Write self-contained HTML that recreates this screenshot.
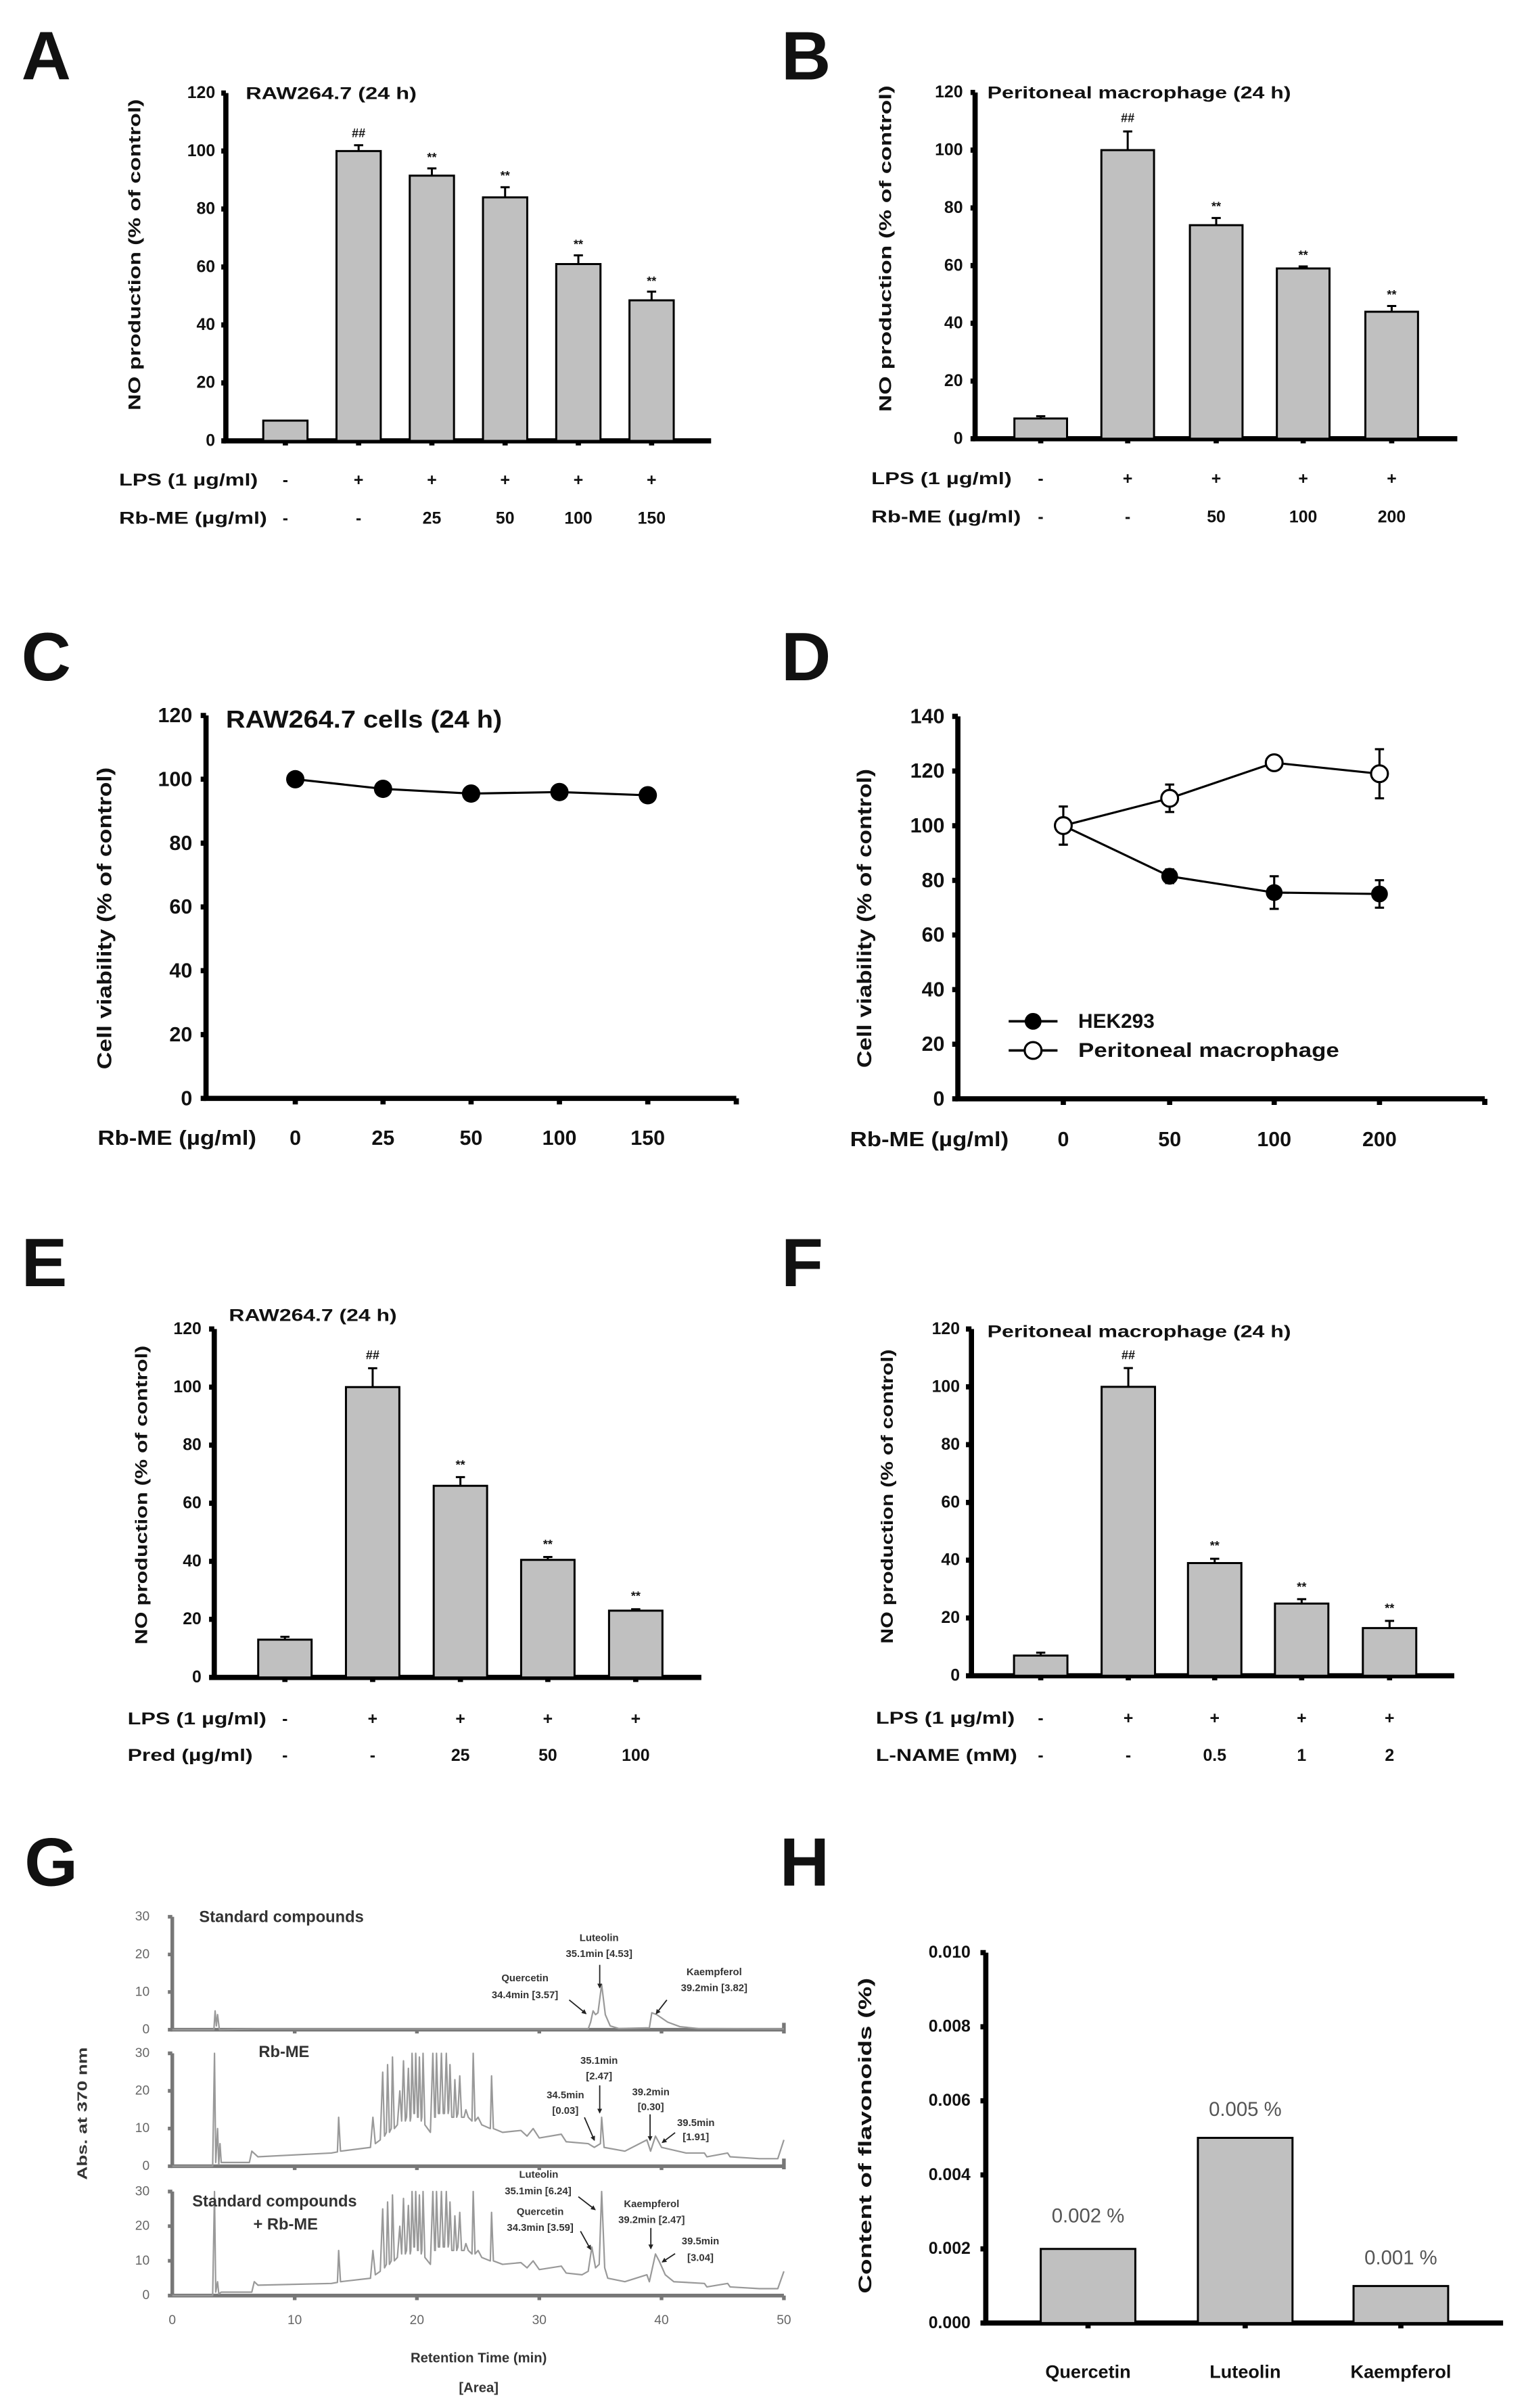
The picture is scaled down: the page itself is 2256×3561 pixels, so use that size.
<!DOCTYPE html>
<html><head><meta charset="utf-8"><style>
html,body{margin:0;padding:0;background:#fff;}
svg{display:block;}
text{font-family:"Liberation Sans",Arial,sans-serif;fill:#111;}
.b{font-weight:bold;}
.ax{stroke:#000;stroke-width:3.4;fill:none;}
.bar{fill:#c0c0c0;stroke:#000;stroke-width:3;vector-effect:non-scaling-stroke;}
.eb{stroke:#000;stroke-width:3;fill:none;vector-effect:non-scaling-stroke;}
.tr{fill:none;stroke:#999;stroke-width:2.2;vector-effect:non-scaling-stroke;stroke-linejoin:round;}
.gax{stroke:#777;stroke-width:2.4;fill:none;}
.gt{fill:#666;font-size:8.5px;}
.gl{fill:#333;font-size:6.6px;font-weight:bold;}
.arr{stroke:#222;stroke-width:0.8;fill:none;}
</style></head><body>
<svg width="2256" height="3561" viewBox="0 0 1000 1578.5" xmlns="http://www.w3.org/2000/svg">
<defs><marker id="ah" viewBox="0 0 6 6" refX="5" refY="3" markerWidth="4" markerHeight="4" orient="auto"><path d="M0,0 L6,3 L0,6 z" fill="#222"/></marker></defs>

<!-- Panel letters -->
<g class="b" font-size="45">
<text x="14" y="52" class="b">A</text>
<text x="512" y="52" class="b">B</text>
<text x="14" y="446" class="b">C</text>
<text x="512" y="446" class="b">D</text>
<text x="14" y="843" class="b">E</text>
<text x="512" y="843" class="b">F</text>
<text x="16" y="1236" class="b">G</text>
<text x="511" y="1236" class="b">H</text>
</g>

<!-- ===== Panel A ===== -->
<g>
<path class="ax" d="M148 61 V289 H466"/>
<path class="ax" d="M145 289H148M145 251H148M145 213H148M145 175H148M145 137H148M145 99H148M145 61H148" />
<path class="ax" stroke-width="2" d="M187 289v3M235 289v3M283 289v3M331 289v3M379 289v3M427 289v3"/>
<g font-size="11" class="b" text-anchor="end" dominant-baseline="central">
<text x="141" y="289" class="b">0</text><text x="141" y="251" class="b">20</text><text x="141" y="213" class="b">40</text><text x="141" y="175" class="b">60</text><text x="141" y="137" class="b">80</text><text x="141" y="99" class="b">100</text><text x="141" y="61" class="b">120</text>
</g>
<text class="b" font-size="11" x="161" y="65" textLength="112" lengthAdjust="spacingAndGlyphs">RAW264.7 (24 h)</text>
<text class="b" font-size="11" transform="translate(92,167) rotate(-90)" text-anchor="middle" textLength="204" lengthAdjust="spacingAndGlyphs">NO production  (% of control)</text>
<g transform="translate(0,289) scale(1,-1.9)">
<rect class="bar" x="172.5" y="0" width="29" height="7"/>
<rect class="bar" x="220.5" y="0" width="29" height="100"/>
<rect class="bar" x="268.5" y="0" width="29" height="91.5"/>
<rect class="bar" x="316.5" y="0" width="29" height="84"/>
<rect class="bar" x="364.5" y="0" width="29" height="61"/>
<rect class="bar" x="412.5" y="0" width="29" height="48.5"/>
<path class="eb" d="M235 100V102M232 102H238 M283 91.5V94M280 94H286 M331 84V87.5M328 87.5H334 M379 61V64M376 64H382 M427 48.5V51.5M424 51.5H430"/>
</g>
<g font-size="8" class="b" text-anchor="middle">
<text x="235" y="90" class="b">##</text><text x="283" y="106" class="b">**</text><text x="331" y="118" class="b">**</text><text x="379" y="163" class="b">**</text><text x="427" y="187" class="b">**</text>
</g>
<g font-size="11" text-anchor="middle" dominant-baseline="central" class="b">
<text x="78" y="315" text-anchor="start" textLength="91" lengthAdjust="spacingAndGlyphs" class="b">LPS (1 µg/ml)</text>
<text x="187" y="315" class="b">-</text><text x="235" y="315" class="b">+</text><text x="283" y="315" class="b">+</text><text x="331" y="315" class="b">+</text><text x="379" y="315" class="b">+</text><text x="427" y="315" class="b">+</text>
<text x="78" y="340" text-anchor="start" textLength="97" lengthAdjust="spacingAndGlyphs" class="b">Rb-ME (µg/ml)</text>
<text x="187" y="340" class="b">-</text><text x="235" y="340" class="b">-</text><text x="283" y="340" class="b">25</text><text x="331" y="340" class="b">50</text><text x="379" y="340" class="b">100</text><text x="427" y="340" class="b">150</text>
</g>
</g>

<!-- ===== Panel B ===== -->
<g>
<path class="ax" d="M639 60.6 V287.6 H955"/>
<path class="ax" d="M636 287.6H639M636 249.8H639M636 211.9H639M636 174.1H639M636 136.3H639M636 98.4H639M636 60.6H639"/>
<path class="ax" stroke-width="2" d="M682 287.6v3M739 287.6v3M797 287.6v3M854 287.6v3M912 287.6v3"/>
<g font-size="11" class="b" text-anchor="end" dominant-baseline="central">
<text x="631" y="287.6" class="b">0</text><text x="631" y="249.8" class="b">20</text><text x="631" y="211.9" class="b">40</text><text x="631" y="174.1" class="b">60</text><text x="631" y="136.3" class="b">80</text><text x="631" y="98.4" class="b">100</text><text x="631" y="60.6" class="b">120</text>
</g>
<text class="b" font-size="11" x="647" y="64.5" textLength="199" lengthAdjust="spacingAndGlyphs">Peritoneal  macrophage (24 h)</text>
<text class="b" font-size="11" transform="translate(584,163) rotate(-90)" text-anchor="middle" textLength="214" lengthAdjust="spacingAndGlyphs">NO production  (% of control)</text>
<g transform="translate(0,287.6) scale(1,-1.8917)">
<rect class="bar" x="664.75" y="0" width="34.5" height="7"/>
<rect class="bar" x="721.75" y="0" width="34.5" height="100"/>
<rect class="bar" x="779.75" y="0" width="34.5" height="74"/>
<rect class="bar" x="836.75" y="0" width="34.5" height="59"/>
<rect class="bar" x="894.75" y="0" width="34.5" height="44"/>
<path class="eb" d="M682 7V7.8M679 7.8H685 M739 100V106.5M736 106.5H742 M797 74V76.5M794 76.5H800 M854 59V59.7M851 59.7H857 M912 44V46M909 46H915"/>
</g>
<g font-size="8" class="b" text-anchor="middle">
<text x="739" y="80" class="b">##</text><text x="797" y="138" class="b">**</text><text x="854" y="170" class="b">**</text><text x="912" y="196" class="b">**</text>
</g>
<g font-size="11" text-anchor="middle" dominant-baseline="central" class="b">
<text x="571" y="314" text-anchor="start" textLength="92" lengthAdjust="spacingAndGlyphs" class="b">LPS (1 µg/ml)</text>
<text x="682" y="314" class="b">-</text><text x="739" y="314" class="b">+</text><text x="797" y="314" class="b">+</text><text x="854" y="314" class="b">+</text><text x="912" y="314" class="b">+</text>
<text x="571" y="339" text-anchor="start" textLength="98" lengthAdjust="spacingAndGlyphs" class="b">Rb-ME (µg/ml)</text>
<text x="682" y="339" class="b">-</text><text x="739" y="339" class="b">-</text><text x="797" y="339" class="b">50</text><text x="854" y="339" class="b">100</text><text x="912" y="339" class="b">200</text>
</g>
</g>

<!-- ===== Panel C ===== -->
<g>
<path class="ax" d="M135 469 V720 H482.5"/>
<path class="ax" d="M131.5 720H135M131.5 678.2H135M131.5 636.3H135M131.5 594.5H135M131.5 552.7H135M131.5 510.8H135M131.5 469H135"/>
<path class="ax" stroke-width="2.5" d="M193.5 720v4M251 720v4M308.7 720v4M366.6 720v4M424.5 720v4M482.5 720v4"/>
<g font-size="13.5" class="b" text-anchor="end" dominant-baseline="central">
<text x="126" y="720" class="b">0</text><text x="126" y="678.2" class="b">20</text><text x="126" y="636.3" class="b">40</text><text x="126" y="594.5" class="b">60</text><text x="126" y="552.7" class="b">80</text><text x="126" y="510.8" class="b">100</text><text x="126" y="469" class="b">120</text>
</g>
<text class="b" font-size="16" x="148" y="477" textLength="181" lengthAdjust="spacingAndGlyphs">RAW264.7 cells (24 h)</text>
<text class="b" font-size="13" transform="translate(73,602) rotate(-90)" text-anchor="middle" textLength="198" lengthAdjust="spacingAndGlyphs">Cell viability (% of control)</text>
<polyline fill="none" stroke="#000" stroke-width="1.4" points="193.5,510.8 251,517.1 308.7,520.2 366.6,519.2 424.5,521.3"/>
<g fill="#000"><circle cx="193.5" cy="510.8" r="6"/><circle cx="251" cy="517.1" r="6"/><circle cx="308.7" cy="520.2" r="6"/><circle cx="366.6" cy="519.2" r="6"/><circle cx="424.5" cy="521.3" r="6"/></g>
<g font-size="13.5" text-anchor="middle" dominant-baseline="central" class="b">
<text x="64" y="746" text-anchor="start" textLength="104" lengthAdjust="spacingAndGlyphs" class="b">Rb-ME (µg/ml)</text>
<text x="193.5" y="746" class="b">0</text><text x="251" y="746" class="b">25</text><text x="308.7" y="746" class="b">50</text><text x="366.6" y="746" class="b">100</text><text x="424.5" y="746" class="b">150</text>
</g>
</g>

<!-- ===== Panel D ===== -->
<g>
<path class="ax" d="M627.7 469.6 V720.3 H973"/>
<path class="ax" d="M624 720.3H627.7M624 684.5H627.7M624 648.7H627.7M624 612.9H627.7M624 577.1H627.7M624 541.3H627.7M624 505.4H627.7M624 469.6H627.7"/>
<path class="ax" stroke-width="2.5" d="M696.8 720.3v4M766.5 720.3v4M835 720.3v4M904 720.3v4M973 720.3v4"/>
<g font-size="13.5" class="b" text-anchor="end" dominant-baseline="central">
<text x="619" y="720.3" class="b">0</text><text x="619" y="684.5" class="b">20</text><text x="619" y="648.7" class="b">40</text><text x="619" y="612.9" class="b">60</text><text x="619" y="577.1" class="b">80</text><text x="619" y="541.3" class="b">100</text><text x="619" y="505.4" class="b">120</text><text x="619" y="469.6" class="b">140</text>
</g>
<text class="b" font-size="13" transform="translate(571,602) rotate(-90)" text-anchor="middle" textLength="196" lengthAdjust="spacingAndGlyphs">Cell viability (% of control)</text>
<g stroke="#000" stroke-width="1.4" fill="none">
<polyline points="696.8,541.2 766.5,574.4 835,585.1 904,586"/>
<polyline points="696.8,541.2 766.5,523.3 835,500 904,507.2"/>
<path d="M766.5 569.9V578.9M763.5 569.9H769.5M763.5 578.9H769.5 M835 574.4V595.8M832 574.4H838M832 595.8H838 M904 577V595M901 577H907M901 595H907"/>
<path d="M696.8 528.7V553.7M693.8 528.7H699.8M693.8 553.7H699.8 M766.5 514.3V532.3M763.5 514.3H769.5M763.5 532.3H769.5 M835 498.2V501.8M832 498.2H838 M904 491.1V523.3M901 491.1H907M901 523.3H907"/>
</g>
<g fill="#000"><circle cx="766.5" cy="574.4" r="5.5"/><circle cx="835" cy="585.1" r="5.5"/><circle cx="904" cy="586" r="5.5"/></g>
<g fill="#fff" stroke="#000" stroke-width="1.4"><circle cx="696.8" cy="541.2" r="5.5"/><circle cx="766.5" cy="523.3" r="5.5"/><circle cx="835" cy="500" r="5.5"/><circle cx="904" cy="507.2" r="5.5"/></g>
<path d="M661 669.5H693M661 688.6H693" stroke="#000" stroke-width="1.6"/>
<circle cx="677" cy="669.5" r="5.5" fill="#000"/>
<circle cx="677" cy="688.6" r="5.5" fill="#fff" stroke="#000" stroke-width="1.4"/>
<g font-size="13" class="b" dominant-baseline="central">
<text x="706.6" y="669.5" textLength="50" lengthAdjust="spacingAndGlyphs" class="b">HEK293</text>
<text x="706.6" y="688.6" textLength="171" lengthAdjust="spacingAndGlyphs" class="b">Peritoneal macrophage</text>
</g>
<g font-size="13.5" text-anchor="middle" dominant-baseline="central" class="b">
<text x="557" y="747" text-anchor="start" textLength="104" lengthAdjust="spacingAndGlyphs" class="b">Rb-ME (µg/ml)</text>
<text x="696.8" y="747" class="b">0</text><text x="766.5" y="747" class="b">50</text><text x="835" y="747" class="b">100</text><text x="904" y="747" class="b">200</text>
</g>
</g>

<!-- ===== Panel E ===== -->
<g>
<path class="ax" d="M140.4 871.2 V1099.6 H459.6"/>
<path class="ax" d="M137 1099.6H140.4M137 1061.5H140.4M137 1023.5H140.4M137 985.4H140.4M137 947.3H140.4M137 909.3H140.4M137 871.2H140.4"/>
<path class="ax" stroke-width="2" d="M186.7 1099.6v3M244.2 1099.6v3M301.7 1099.6v3M359 1099.6v3M416.6 1099.6v3"/>
<g font-size="11" class="b" text-anchor="end" dominant-baseline="central">
<text x="132" y="1099.6" class="b">0</text><text x="132" y="1061.5" class="b">20</text><text x="132" y="1023.5" class="b">40</text><text x="132" y="985.4" class="b">60</text><text x="132" y="947.3" class="b">80</text><text x="132" y="909.3" class="b">100</text><text x="132" y="871.2" class="b">120</text>
</g>
<text class="b" font-size="11" x="150" y="866" textLength="110" lengthAdjust="spacingAndGlyphs">RAW264.7 (24 h)</text>
<text class="b" font-size="11" transform="translate(96.5,980) rotate(-90)" text-anchor="middle" textLength="196" lengthAdjust="spacingAndGlyphs">NO production  (% of control)</text>
<g transform="translate(0,1099.6) scale(1,-1.9033)">
<rect class="bar" x="169.2" y="0" width="35" height="13"/>
<rect class="bar" x="226.7" y="0" width="35" height="100"/>
<rect class="bar" x="284.2" y="0" width="35" height="66"/>
<rect class="bar" x="341.5" y="0" width="35" height="40.5"/>
<rect class="bar" x="399.1" y="0" width="35" height="23"/>
<path class="eb" d="M186.7 13V14M183.7 14H189.7 M244.2 100V106.5M241.2 106.5H247.2 M301.7 66V69M298.7 69H304.7 M359 40.5V41.5M356 41.5H362 M416.6 23V23.5M413.6 23.5H419.6"/>
</g>
<g font-size="8" class="b" text-anchor="middle">
<text x="244.2" y="891" class="b">##</text><text x="301.7" y="963" class="b">**</text><text x="359" y="1015" class="b">**</text><text x="416.6" y="1049" class="b">**</text>
</g>
<g font-size="11" text-anchor="middle" dominant-baseline="central" class="b">
<text x="83.6" y="1127" text-anchor="start" textLength="91" lengthAdjust="spacingAndGlyphs" class="b">LPS (1 µg/ml)</text>
<text x="186.7" y="1127" class="b">-</text><text x="244.2" y="1127" class="b">+</text><text x="301.7" y="1127" class="b">+</text><text x="359" y="1127" class="b">+</text><text x="416.6" y="1127" class="b">+</text>
<text x="83.6" y="1151" text-anchor="start" textLength="82" lengthAdjust="spacingAndGlyphs" class="b">Pred (µg/ml)</text>
<text x="186.7" y="1151" class="b">-</text><text x="244.2" y="1151" class="b">-</text><text x="301.7" y="1151" class="b">25</text><text x="359" y="1151" class="b">50</text><text x="416.6" y="1151" class="b">100</text>
</g>
</g>

<!-- ===== Panel F ===== -->
<g>
<path class="ax" d="M636.6 871.2 V1098.5 H953"/>
<path class="ax" d="M633 1098.5H636.6M633 1060.6H636.6M633 1022.7H636.6M633 984.9H636.6M633 947H636.6M633 909.1H636.6M633 871.2H636.6"/>
<path class="ax" stroke-width="2" d="M682 1098.5v3M739.4 1098.5v3M796 1098.5v3M853 1098.5v3M910.6 1098.5v3"/>
<g font-size="11" class="b" text-anchor="end" dominant-baseline="central">
<text x="629" y="1098.5" class="b">0</text><text x="629" y="1060.6" class="b">20</text><text x="629" y="1022.7" class="b">40</text><text x="629" y="984.9" class="b">60</text><text x="629" y="947" class="b">80</text><text x="629" y="909.1" class="b">100</text><text x="629" y="871.2" class="b">120</text>
</g>
<text class="b" font-size="11" x="647" y="876.5" textLength="199" lengthAdjust="spacingAndGlyphs">Peritoneal  macrophage (24 h)</text>
<text class="b" font-size="11" transform="translate(585,981) rotate(-90)" text-anchor="middle" textLength="193" lengthAdjust="spacingAndGlyphs">NO production  (% of control)</text>
<g transform="translate(0,1098.5) scale(1,-1.894)">
<rect class="bar" x="664.5" y="0" width="35" height="7"/>
<rect class="bar" x="721.9" y="0" width="35" height="100"/>
<rect class="bar" x="778.5" y="0" width="35" height="39"/>
<rect class="bar" x="835.5" y="0" width="35" height="25"/>
<rect class="bar" x="893.1" y="0" width="35" height="16.5"/>
<path class="eb" d="M682 7V8M679 8H685 M739.4 100V106.5M736.4 106.5H742.4 M796 39V40.5M793 40.5H799 M853 25V26.5M850 26.5H856 M910.6 16.5V19M907.6 19H913.6"/>
</g>
<g font-size="8" class="b" text-anchor="middle">
<text x="739.4" y="891" class="b">##</text><text x="796" y="1016" class="b">**</text><text x="853" y="1043" class="b">**</text><text x="910.6" y="1057" class="b">**</text>
</g>
<g font-size="11" text-anchor="middle" dominant-baseline="central" class="b">
<text x="574" y="1126.5" text-anchor="start" textLength="91" lengthAdjust="spacingAndGlyphs" class="b">LPS (1 µg/ml)</text>
<text x="682" y="1126.5" class="b">-</text><text x="739.4" y="1126.5" class="b">+</text><text x="796" y="1126.5" class="b">+</text><text x="853" y="1126.5" class="b">+</text><text x="910.6" y="1126.5" class="b">+</text>
<text x="574" y="1151" text-anchor="start" textLength="92.6" lengthAdjust="spacingAndGlyphs" class="b">L-NAME (mM)</text>
<text x="682" y="1151" class="b">-</text><text x="739.4" y="1151" class="b">-</text><text x="796" y="1151" class="b">0.5</text><text x="853" y="1151" class="b">1</text><text x="910.6" y="1151" class="b">2</text>
</g>
</g>

<!-- ===== Panel G ===== -->
<g>
<!-- axes -->
<path class="gax" d="M112.9 1256.5V1330.5H513.7 M112.9 1346V1420H513.7 M112.9 1436.6V1504.8H513.7"/>
<path class="gax" stroke-width="1.6" d="M110 1256.5H112.9M110 1281.2H112.9M110 1305.8H112.9M110 1330.5H112.9 M110 1346H112.9M110 1370.6H112.9M110 1395.3H112.9M110 1420H112.9 M110 1436.6H112.9M110 1459.3H112.9M110 1482H112.9M110 1504.8H112.9"/>
<path class="gax" stroke-width="1.6" d="M193.1 1330.5v2.5M273.2 1330.5v2.5M353.4 1330.5v2.5M433.5 1330.5v2.5M513.7 1326v7 M193.1 1420v2.5M273.2 1420v2.5M353.4 1420v2.5M433.5 1420v2.5M513.7 1415v7 M193.1 1504.8v3M273.2 1504.8v3M353.4 1504.8v3M433.5 1504.8v3M513.7 1504.8v3"/>
<g class="gt" text-anchor="end" dominant-baseline="central">
<text x="98" y="1256.5" class="gt">30</text><text x="98" y="1281.2" class="gt">20</text><text x="98" y="1305.8" class="gt">10</text><text x="98" y="1330.5" class="gt">0</text>
<text x="98" y="1346" class="gt">30</text><text x="98" y="1370.6" class="gt">20</text><text x="98" y="1395.3" class="gt">10</text><text x="98" y="1420" class="gt">0</text>
<text x="98" y="1436.6" class="gt">30</text><text x="98" y="1459.3" class="gt">20</text><text x="98" y="1482" class="gt">10</text><text x="98" y="1504.8" class="gt">0</text>
</g>
<g class="gt" text-anchor="middle" dominant-baseline="central">
<text x="112.9" y="1521" class="gt">0</text><text x="193.1" y="1521" class="gt">10</text><text x="273.2" y="1521" class="gt">20</text><text x="353.4" y="1521" class="gt">30</text><text x="433.5" y="1521" class="gt">40</text><text x="513.7" y="1521" class="gt">50</text>
</g>
<text class="b" font-size="9" x="313.7" y="1548.5" text-anchor="middle" fill="#333" style="fill:#333">Retention Time (min)</text>
<text class="b" font-size="9" x="313.7" y="1568" text-anchor="middle" style="fill:#333">[Area]</text>
<text class="b" font-size="9" transform="translate(57,1385.5) rotate(-90)" text-anchor="middle" textLength="87" lengthAdjust="spacingAndGlyphs" style="fill:#333">Abs. at 370 nm</text>
<!-- traces -->
<g transform="translate(112.9,1330.5) scale(8.016,-2.467)">
<polyline class="tr" points="0,0 3.4,0 3.5,5 3.6,1 3.7,4 3.85,0 7,0.2 34,0.2 34.2,2 34.4,5 34.6,4 34.8,4.5 35.1,12 35.4,4 35.8,1 36.5,0.3 39,0.5 39.2,4.5 39.6,4 40.5,2 41.5,0.8 43,0.3 50,0.2"/>
</g>
<g transform="translate(112.9,1420) scale(8.016,-2.467)">
<polyline class="tr" points="0,0 3.3,0 3.45,30 3.55,1 3.7,10 3.8,0.5 3.9,6 4.0,1 6.3,1 6.5,4 7,2.5 13,3.5 13.5,3.8 13.6,13 13.75,4 16.2,5 16.4,13 16.6,6 17.0,7 17.2,25 17.35,8 17.5,9 17.6,27 17.75,9 17.9,10 18.0,29 18.15,10 18.4,11 18.6,20 18.75,12 18.9,28 19.05,12 19.15,13 19.3,26 19.45,12 19.5,13 19.6,30 19.75,14 19.8,14 19.9,30 20.05,13 20.1,13 20.2,29 20.35,12 20.4,13 20.5,30 20.65,11 21.1,9 21.3,30 21.45,13 21.5,13 21.6,30 21.75,14 21.85,14 22.0,30 22.15,14 22.25,14 22.4,30 22.55,14 22.6,15 22.7,27 22.85,13 23.0,13 23.1,23 23.25,13 23.35,14 23.5,24 23.65,13 23.85,13 24.0,15 24.2,13 24.5,12 24.6,30 24.75,12 25.0,13 25.3,11 26.0,10 26.1,24 26.25,10 27,9 28.5,9.5 29.0,8 29.5,10 30,7.5 31.8,8.5 32.2,6.5 34,6 34.5,5 35.0,6 35.1,13 35.3,5 37,4 38.8,7 39.1,4 39.5,8 40,5 42,3.5 43.5,3.5 43.7,2.5 45.4,3.5 45.6,2.5 48,2 49.5,2 50,7"/>
</g>
<g transform="translate(112.9,1504.8) scale(8.016,-2.273)">
<polyline class="tr" points="0,0 3.3,0 3.45,30 3.55,1 3.7,4 3.8,0.5 4.0,1 6.5,1 6.7,4 7,3 13,3.5 13.5,3.8 13.6,13 13.75,4 16.2,5 16.4,13 16.6,6 17.0,7 17.2,25 17.35,8 17.5,9 17.6,27 17.75,9 17.9,10 18.0,29 18.15,10 18.4,11 18.6,20 18.75,12 18.9,28 19.05,12 19.15,13 19.3,26 19.45,12 19.5,13 19.6,30 19.75,14 19.8,14 19.9,30 20.05,13 20.1,13 20.2,29 20.35,12 20.4,13 20.5,30 20.65,11 21.1,9 21.3,30 21.45,13 21.5,13 21.6,30 21.75,14 21.85,14 22.0,30 22.15,14 22.25,14 22.4,30 22.55,14 22.6,15 22.7,27 22.85,13 23.0,13 23.1,23 23.25,13 23.35,14 23.5,24 23.65,13 23.85,13 24.0,15 24.2,13 24.5,12 24.6,30 24.75,12 25.0,13 25.3,11 26.0,10 26.1,24 26.25,10 27,9 28.5,9.5 29.0,8 29.5,10 30,7.5 31.8,8.5 32.2,6.5 33.5,6 34.0,7 34.3,14 34.6,8 34.9,9 35.1,30 35.35,8 35.6,5 37,4 38.8,6 39.0,4 39.5,12 39.8,10 40.3,6 41,4 43.5,3.5 43.7,2.5 45.4,3.5 45.6,2.5 48,2 49.5,2 50,7"/>
</g>
<!-- labels -->
<text class="b" font-size="10.5" x="130.5" y="1260" style="fill:#333">Standard compounds</text>
<text class="b" font-size="10.5" x="169.5" y="1348.5" style="fill:#333">Rb-ME</text>
<text class="b" font-size="10.5" x="126" y="1446.5" style="fill:#333">Standard compounds</text>
<text class="b" font-size="10.5" x="166" y="1461.5" style="fill:#333">+ Rb-ME</text>
<g class="gl" text-anchor="middle" dominant-baseline="central">
<text x="392.6" y="1270.7" class="gl">Luteolin</text><text x="392.6" y="1281" class="gl">35.1min [4.53]</text>
<text x="344" y="1297" class="gl">Quercetin</text><text x="344" y="1308" class="gl">34.4min [3.57]</text>
<text x="468" y="1293" class="gl">Kaempferol</text><text x="468" y="1303.4" class="gl">39.2min [3.82]</text>
<text x="392.6" y="1351" class="gl">35.1min</text><text x="392.6" y="1361.3" class="gl">[2.47]</text>
<text x="370.5" y="1373.7" class="gl">34.5min</text><text x="370.5" y="1383.8" class="gl">[0.03]</text>
<text x="426.5" y="1371.7" class="gl">39.2min</text><text x="426.5" y="1381.5" class="gl">[0.30]</text>
<text x="456" y="1391.8" class="gl">39.5min</text><text x="456" y="1401.3" class="gl">[1.91]</text>
<text x="353" y="1425.8" class="gl">Luteolin</text><text x="352.6" y="1436.6" class="gl">35.1min [6.24]</text>
<text x="354" y="1450.2" class="gl">Quercetin</text><text x="354" y="1460.5" class="gl">34.3min [3.59]</text>
<text x="427" y="1445" class="gl">Kaempferol</text><text x="427" y="1455.4" class="gl">39.2min [2.47]</text>
<text x="459" y="1469.5" class="gl">39.5min</text><text x="459" y="1480.4" class="gl">[3.04]</text>
</g>
<g class="arr" marker-end="url(#ah)">
<path d="M393 1288V1303"/><path d="M373 1311L384 1320"/><path d="M437 1311L430 1320"/>
<path d="M393 1367V1385"/><path d="M383 1388L389.5 1403"/><path d="M426 1386V1403"/><path d="M442.4 1398L434 1404.5"/>
<path d="M379 1440L390 1448.5"/><path d="M380.4 1462.6L387 1474.5"/><path d="M426.5 1460.5V1474"/><path d="M442.4 1477.3L434 1482.8"/>
</g>
</g>

<!-- ===== Panel H ===== -->
<g>
<path class="ax" d="M646 1280 V1522.8 H985"/>
<path class="ax" d="M642.5 1522.8H646M642.5 1474.2H646M642.5 1425.7H646M642.5 1377.1H646M642.5 1328.6H646M642.5 1280H646"/>
<path class="ax" stroke-width="2" d="M713 1522.8v3.5M816 1522.8v3.5M918 1522.8v3.5"/>
<g font-size="11" class="b" text-anchor="end" dominant-baseline="central">
<text x="636" y="1522.8" class="b">0.000</text><text x="636" y="1474.2" class="b">0.002</text><text x="636" y="1425.7" class="b">0.004</text><text x="636" y="1377.1" class="b">0.006</text><text x="636" y="1328.6" class="b">0.008</text><text x="636" y="1280" class="b">0.010</text>
</g>
<text class="b" font-size="12" transform="translate(571,1400) rotate(-90)" text-anchor="middle" textLength="207" lengthAdjust="spacingAndGlyphs">Content of flavonoids (%)</text>
<g transform="translate(0,1522.8) scale(1,-24.28)">
<rect class="bar" x="682" y="0" width="62" height="2"/>
<rect class="bar" x="785" y="0" width="62" height="5"/>
<rect class="bar" x="887" y="0" width="62" height="1"/>
</g>
<g font-size="13" text-anchor="middle" dominant-baseline="central" style="fill:#555">
<text x="713" y="1452.6" style="fill:#555">0.002 %</text>
<text x="816" y="1382.7" style="fill:#555">0.005 %</text>
<text x="918" y="1480" style="fill:#555">0.001 %</text>
</g>
<g font-size="12" class="b" text-anchor="middle" dominant-baseline="central">
<text x="713" y="1554.6" class="b">Quercetin</text>
<text x="816" y="1554.6" class="b">Luteolin</text>
<text x="918" y="1554.6" class="b">Kaempferol</text>
</g>
</g>
</svg>
</body></html>
